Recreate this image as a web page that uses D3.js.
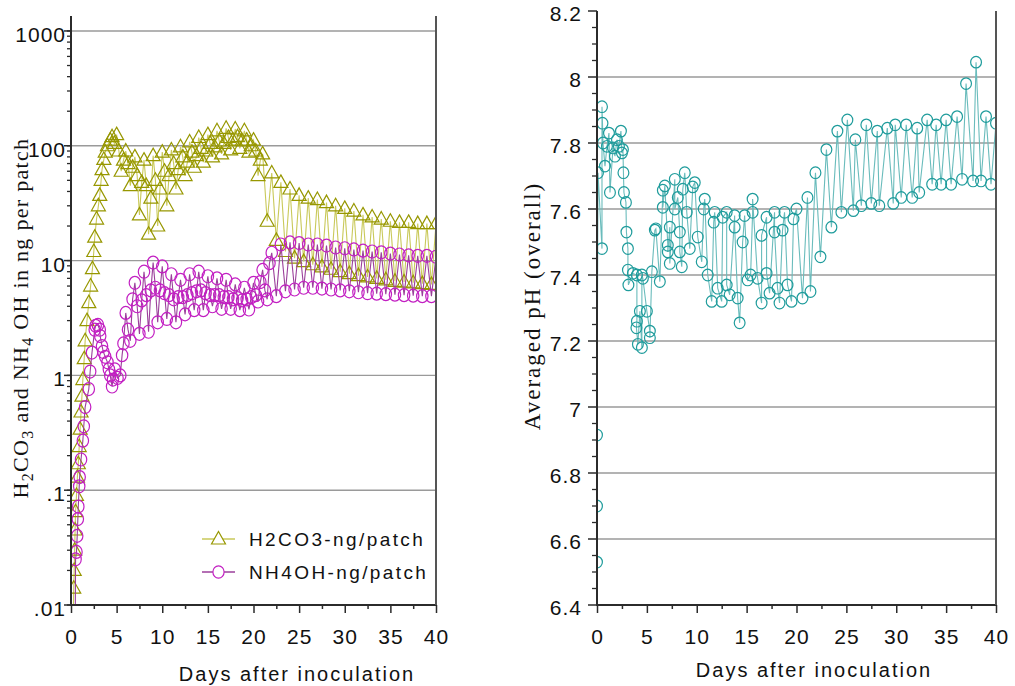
<!DOCTYPE html>
<html>
<head>
<meta charset="utf-8">
<script src="https://cdn.jsdelivr.net/npm/d3@7"></script>
<style>
  body { margin: 0; background: #fff; }
  svg { display: block; font-family: "Liberation Sans", Arial, sans-serif; }
</style>
</head>
<body>
<div id="chart"></div>
<script>
// ---- data: [day, value] ----
const h2co3Points = [
  [0.2,0.005],[0.3,0.014],[0.35,0.02],[0.4,0.03],[0.45,0.045],[0.5,0.065],[0.6,0.09],[0.7,0.13],[0.8,0.17],[0.9,0.24],
  [1.0,0.34],[1.1,0.48],[1.2,0.66],[1.3,0.92],[1.45,1.4],[1.55,2.0],[1.75,3.0],[1.95,4.3],[2.15,6.0],[2.35,8.5],
  [2.5,12],[2.6,16],[2.8,23],[3.0,30],[3.15,37],[3.3,50],[3.4,62],[3.6,76],[3.75,88],[4.0,100],[4.3,112],[4.5,120],[4.75,105],
  [5.0,125],[5.25,90],[5.5,60],[5.75,75],[6.0,90],[6.25,70],[6.5,45],[6.75,65],
  [7.0,80],[7.25,55],[7.5,25],[7.75,48],[8.0,75],[8.25,45],[8.5,17],[8.75,35],
  [9.0,82],[9.25,50],[9.5,20],[9.75,42],[10.0,88],[10.25,60],[10.5,30],[10.75,55],
  [11.0,92],[11.25,70],[11.5,42],[11.75,62],[12.0,98],[12.25,80],[12.5,55],[12.75,72],
  [13.0,108],[13.25,88],[13.5,65],[13.75,82],[14.0,118],[14.25,95],[14.5,72],[14.75,90],
  [15.0,125],[15.25,105],[15.5,80],[15.75,98],[16.0,135],[16.25,110],[16.5,85],[16.75,105],
  [17.0,142],[17.25,118],[17.5,92],[17.75,112],[18.0,140],[18.25,120],[18.5,95],[18.75,110],
  [19.0,135],[19.25,112],[19.5,88],[19.75,100],[20.0,112],[20.25,90],[20.5,55],[20.75,75],
  [21.0,85],[21.5,22],[22.0,58],[22.5,15],[23.0,48],[23.5,12],[24.0,42],[24.5,10.5],[25.0,37],[25.5,9.8],
  [26.0,35],[26.5,9.2],[27.0,34],[27.5,8.8],[28.0,32],[28.5,8.4],[29.0,30],[29.5,8.0],[30.0,28.5],[30.5,7.7],
  [31.0,27],[31.5,7.4],[32.0,25],[32.5,7.2],[33.0,24],[33.5,7.0],[34.0,23],[34.5,6.8],[35.0,22],[35.5,6.6],
  [36.0,21.5],[36.5,6.5],[37.0,21.5],[37.5,6.4],[38.0,21],[38.5,6.3],[39.0,21],[39.5,6.2],[40.0,21]
];

const nh4ohPoints = [
  [0.45,0.004],[0.5,0.025],[0.6,0.029],[0.68,0.04],[0.75,0.056],[0.8,0.072],[0.9,0.108],[0.95,0.13],[1.1,0.185],[1.3,0.27],
  [1.4,0.36],[1.55,0.53],[1.95,0.76],[2.1,1.08],[2.3,1.58],[2.6,2.5],[2.7,2.7],[2.95,2.75],[3.15,2.5],[3.2,2.2],
  [3.4,1.8],[3.55,1.6],[3.75,1.45],[4.0,1.3],[4.15,1.13],[4.3,1.0],[4.5,0.8],[4.6,0.92],[4.8,1.13],[5.1,0.95],[5.4,1.0],[5.6,1.5],
  [5.75,1.9],[6.0,3.5],[6.25,2.5],[6.5,2.0],[6.75,4.6],[7.0,6.4],[7.25,4.0],[7.5,2.3],
  [7.75,4.5],[8.0,8.0],[8.25,5.0],[8.5,2.4],[8.75,5.5],[9.0,9.6],[9.25,5.8],[9.5,2.9],
  [9.75,5.5],[10.0,8.9],[10.25,5.2],[10.5,3.1],[10.75,5.0],[11.0,7.6],[11.25,4.6],[11.5,2.9],
  [11.75,4.8],[12.0,6.8],[12.25,4.8],[12.5,3.4],[12.75,5.0],[13.0,7.6],[13.25,5.2],[13.5,3.7],
  [13.75,5.4],[14.0,8.0],[14.25,5.5],[14.5,3.7],[14.75,5.2],[15.0,7.3],[15.25,5.0],[15.5,4.0],
  [15.75,5.0],[16.0,7.0],[16.25,5.0],[16.5,3.8],[16.75,4.8],[17.0,6.8],[17.25,4.8],[17.5,3.8],
  [17.75,4.6],[18.0,6.2],[18.25,4.7],[18.5,3.7],[18.75,4.5],[19.0,5.8],[19.25,4.6],[19.5,3.75],
  [19.75,4.8],[20.0,6.4],[20.25,5.0],[20.5,4.4],[20.75,6.5],[21.0,8.3],[21.25,5.5],[21.5,4.6],
  [21.75,9.5],[22.0,11.7],[22.5,4.9],[23.0,13.8],[23.5,5.4],[24.0,14.4],[24.5,5.6],[25.0,14.2],[25.5,5.8],
  [26.0,13.8],[26.5,5.8],[27.0,13.8],[27.5,5.7],[28.0,13.5],[28.5,5.6],[29.0,13.0],[29.5,5.5],[30.0,12.8],[30.5,5.4],
  [31.0,12.5],[31.5,5.3],[32.0,12.2],[32.5,5.2],[33.0,12.0],[33.5,5.15],[34.0,11.8],[34.5,5.1],[35.0,11.5],[35.5,5.05],
  [36.0,11.3],[36.5,5.0],[37.0,11.1],[37.5,4.95],[38.0,11.0],[38.5,4.9],[39.0,11.0],[39.5,4.9],[40.0,10.8]
];

const phPoints = [
  [0,6.53],[0,6.70],[0,6.915],[0.1,7.71],[0.5,7.48],[0.5,7.91],[0.55,7.86],[0.6,7.80],[0.8,7.73],[1.0,7.79],
  [1.2,7.83],[1.3,7.65],[1.6,7.785],[1.8,7.76],[2.0,7.81],[2.2,7.79],[2.4,7.836],[2.5,7.77],[2.6,7.78],[2.65,7.71],
  [2.7,7.65],[2.9,7.62],[2.95,7.53],[3.1,7.48],[3.1,7.415],[3.15,7.37],[3.6,7.405],[4.0,7.40],[4.0,7.26],[3.95,7.24],
  [4.1,7.19],[4.3,7.29],[4.5,7.18],[4.5,7.40],[4.6,7.39],[5.0,7.29],[5.3,7.23],[5.3,7.21],[5.5,7.41],[5.8,7.536],
  [5.9,7.54],[6.3,7.38],[6.6,7.657],[6.6,7.605],[6.8,7.67],[7.1,7.49],[7.1,7.47],[7.3,7.545],[7.3,7.435],[7.8,7.69],
  [7.8,7.60],[8.1,7.635],[8.3,7.53],[8.3,7.47],[8.5,7.425],[8.6,7.66],[8.8,7.71],[9.0,7.59],[9.3,7.48],[9.6,7.667],
  [9.8,7.68],[10.1,7.515],[10.5,7.44],[10.7,7.60],[10.8,7.63],[11.1,7.40],[11.5,7.32],[11.7,7.56],[11.8,7.59],[12.1,7.36],
  [12.5,7.32],[12.6,7.575],[13.0,7.59],[13.0,7.37],[13.3,7.34],[13.8,7.58],[13.8,7.545],[14.1,7.33],[14.3,7.255],[14.6,7.50],
  [14.8,7.58],[15.1,7.385],[15.4,7.40],[15.6,7.59],[15.6,7.63],[16.1,7.39],[16.5,7.315],[16.5,7.52],[17.0,7.575],[17.0,7.405],
  [17.3,7.345],[17.8,7.59],[17.8,7.53],[18.1,7.36],[18.3,7.315],[18.6,7.536],[18.8,7.59],[19.1,7.37],[19.5,7.32],[19.7,7.57],
  [20.0,7.60],[20.6,7.33],[21.1,7.635],[21.4,7.35],[21.9,7.71],[22.4,7.455],[23.0,7.78],[23.5,7.545],[24.1,7.836],[24.5,7.59],
  [25.1,7.87],[25.7,7.595],[25.9,7.81],[26.5,7.61],[27.0,7.855],[27.5,7.617],[28.1,7.836],[28.3,7.61],[29.1,7.845],[29.7,7.617],
  [29.9,7.855],[30.5,7.635],[31.0,7.855],[31.6,7.635],[32.1,7.845],[32.3,7.65],[33.1,7.87],[33.6,7.675],[34.0,7.855],[34.5,7.675],
  [35.0,7.87],[35.5,7.675],[36.1,7.88],[36.6,7.69],[37.0,7.98],[37.7,7.685],[38.0,8.045],[38.5,7.685],[39.0,7.88],[39.5,7.675],
  [40.0,7.86]
];

const dayTicks = [0, 5, 10, 15, 20, 25, 30, 35, 40];
const dayMinorTicks = [2.5, 7.5, 12.5, 17.5, 22.5, 27.5, 32.5, 37.5];
const logTicks = [0.01, 0.1, 1, 10, 100, 1000];
const logTickLabels = ['.01', '.1', '1', '10', '100', '1000'];
const phTicks = [6.4, 6.6, 6.8, 7, 7.2, 7.4, 7.6, 7.8, 8, 8.2];
const phTickLabels = ['6.4', '6.6', '6.8', '7', '7.2', '7.4', '7.6', '7.8', '8', '8.2'];
const phMinorTicks = [6.45,6.5,6.55,6.65,6.7,6.75,6.85,6.9,6.95,7.05,7.1,7.15,7.25,7.3,7.35,7.45,7.5,7.55,7.65,7.7,7.75,7.85,7.9,7.95,8.05,8.1,8.15];
const legendNames = ['H2CO3-ng/patch', 'NH4OH-ng/patch'];

// ---- colours ----
const olive = '#979700', oliveLine = '#c9c95a';
const magenta = '#c21fc2', magentaLine = '#9b3f9b';
const teal = '#1f9c9c', tealLine = '#6abcbc';
const axisColor = '#2b2b2b', gridColor = '#9a9a9a';

const svg = d3.select('#chart').append('svg')
  .attr('width', 1015)
  .attr('height', 686);

// scales
const xL = d3.scaleLinear().domain([0, 40]).range([71, 436]);
const yL = d3.scaleLog().domain([0.01, 1350]).range([605, 16]);
const xR = d3.scaleLinear().domain([0, 40]).range([597, 996]);
const yR = d3.scaleLinear().domain([6.4, 8.2]).range([605, 11]);

const defs = svg.append('defs');
const addClip = (id, x, y) => defs.append('clipPath').attr('id', id)
  .append('rect')
    .attr('x', x.range()[0]).attr('y', y.range()[1])
    .attr('width', x.range()[1] - x.range()[0])
    .attr('height', y.range()[0] - y.range()[1]);
addClip('clipL', xL, yL);
addClip('clipR', xR, yR);

const triPath = 'M0,-7.5L7,5L-7,5Z';

// gridlines
svg.append('g').selectAll('line')
  .data(logTicks.filter(v => v > 0.01))
  .join('line')
    .attr('x1', xL(0)).attr('x2', xL(40))
    .attr('y1', d => yL(d)).attr('y2', d => yL(d))
    .attr('stroke', gridColor).attr('stroke-width', 1.4);

svg.append('g').selectAll('line')
  .data(phTicks.filter(v => v > 6.45 && v < 8.1))
  .join('line')
    .attr('x1', xR(0)).attr('x2', xR(40))
    .attr('y1', d => yR(d)).attr('y2', d => yR(d))
    .attr('stroke', gridColor).attr('stroke-width', 1.4);

// ---- series ----
const drawSeries = (points, x, y, clipId, lineColor, markColor, marker) => {
  const g = svg.append('g').attr('clip-path', `url(#${clipId})`);
  g.append('path')
    .datum(points)
    .attr('fill', 'none')
    .attr('stroke', lineColor)
    .attr('stroke-width', 1.1)
    .attr('d', d3.line().x(d => x(d[0])).y(d => y(d[1])));
  if (marker === 'tri') {
    g.selectAll('path.mark')
      .data(points)
      .join('path')
        .attr('class', 'mark')
        .attr('d', triPath)
        .attr('transform', d => `translate(${x(d[0])},${y(d[1])})`)
        .attr('fill', 'none')
        .attr('stroke', markColor)
        .attr('stroke-width', 1.2);
  } else {
    g.selectAll('ellipse')
      .data(points)
      .join('ellipse')
        .attr('cx', d => x(d[0]))
        .attr('cy', d => y(d[1]))
        .attr('rx', marker === 'circleL' ? 5.7 : 5.4)
        .attr('ry', marker === 'circleL' ? 6.5 : 5.8)
        .attr('fill', 'none')
        .attr('stroke', markColor)
        .attr('stroke-width', 1.2);
  }
};

drawSeries(h2co3Points, xL, yL, 'clipL', oliveLine, olive, 'tri');
drawSeries(nh4ohPoints, xL, yL, 'clipL', magentaLine, magenta, 'circleL');
drawSeries(phPoints, xR, yR, 'clipR', tealLine, teal, 'circleR');

// ---- axes ----
const drawXAxis = (x, y0) => {
  svg.append('g')
    .attr('transform', `translate(0,${y0})`)
    .call(d3.axisBottom(x).tickValues(dayMinorTicks).tickSize(4).tickSizeOuter(0).tickFormat(''))
    .attr('color', axisColor)
    .call(g => g.select('.domain').remove())
    .selectAll('line').attr('stroke-width', 1.5);

  svg.append('g')
    .attr('transform', `translate(0,${y0})`)
    .call(d3.axisBottom(x).tickValues(dayTicks).tickSize(8).tickSizeOuter(0).tickPadding(16))
    .attr('color', axisColor)
    .attr('font-size', 21)
    .attr('font-family', '"Liberation Sans", Arial, sans-serif')
    .call(g => g.select('.domain').remove())
    .call(g => g.selectAll('line').attr('stroke-width', 1.5))
    .call(g => g.selectAll('text').attr('fill', '#111').attr('letter-spacing', '1px'));

  svg.append('line')
    .attr('x1', x.range()[0] - 1).attr('x2', x.range()[1] + 1)
    .attr('y1', y0).attr('y2', y0)
    .attr('stroke', axisColor).attr('stroke-width', 2);
};

drawXAxis(xL, 605);
drawXAxis(xR, 605);

// left (log) y axis
const yLeft = svg.append('g');
yLeft.selectAll('line.minor')
  .data(yL.ticks())
  .join('line')
    .attr('x1', xL(0) - 4).attr('x2', xL(0))
    .attr('y1', d => yL(d)).attr('y2', d => yL(d))
    .attr('stroke', axisColor).attr('stroke-width', 1.3);
yLeft.selectAll('line.major')
  .data(logTicks)
  .join('line')
    .attr('x1', xL(0) - 7).attr('x2', xL(0))
    .attr('y1', d => yL(d)).attr('y2', d => yL(d))
    .attr('stroke', axisColor).attr('stroke-width', 1.5);
yLeft.selectAll('text')
  .data(logTicks)
  .join('text')
    .attr('x', xL(0) - 5)
    .attr('y', d => yL(d) + 11)
    .attr('text-anchor', 'end')
    .attr('font-size', 21)
    .attr('letter-spacing', '1px')
    .attr('fill', '#111')
    .text((d, i) => logTickLabels[i]);
yLeft.append('line')
  .attr('x1', xL(0)).attr('x2', xL(0))
  .attr('y1', yL.range()[1]).attr('y2', yL.range()[0] + 1)
  .attr('stroke', axisColor).attr('stroke-width', 2);
// frame on the right side of the left panel
svg.append('line')
  .attr('x1', xL(40)).attr('x2', xL(40))
  .attr('y1', yL.range()[1]).attr('y2', yL.range()[0])
  .attr('stroke', '#555').attr('stroke-width', 2);

// right (pH) y axis
const yRight = svg.append('g');
yRight.selectAll('line.minor')
  .data(phMinorTicks)
  .join('line')
    .attr('x1', xR(0) - 5).attr('x2', xR(0))
    .attr('y1', d => yR(d)).attr('y2', d => yR(d))
    .attr('stroke', axisColor).attr('stroke-width', 1.3);
yRight.selectAll('line.major')
  .data(phTicks)
  .join('line')
    .attr('x1', xR(0) - 9).attr('x2', xR(0))
    .attr('y1', d => yR(d)).attr('y2', d => yR(d))
    .attr('stroke', axisColor).attr('stroke-width', 1.5);
yRight.selectAll('text')
  .data(phTicks)
  .join('text')
    .attr('x', xR(0) - 15)
    .attr('y', d => yR(d) + 10)
    .attr('text-anchor', 'end')
    .attr('font-size', 21)
    .attr('letter-spacing', '1px')
    .attr('fill', '#111')
    .text((d, i) => phTickLabels[i]);
yRight.append('line')
  .attr('x1', xR(0)).attr('x2', xR(0))
  .attr('y1', yR.range()[1]).attr('y2', yR.range()[0] + 1)
  .attr('stroke', axisColor).attr('stroke-width', 2);
svg.append('line')
  .attr('x1', xR(40)).attr('x2', xR(40))
  .attr('y1', yR.range()[1]).attr('y2', yR.range()[0])
  .attr('stroke', '#555').attr('stroke-width', 2);

// ---- axis titles ----
svg.append('text')
  .attr('x', 297).attr('y', 681)
  .attr('text-anchor', 'middle')
  .attr('font-size', 20)
  .attr('letter-spacing', '2px')
  .attr('fill', '#111')
  .text('Days after inoculation');

svg.append('text')
  .attr('x', 814).attr('y', 677)
  .attr('text-anchor', 'middle')
  .attr('font-size', 20)
  .attr('letter-spacing', '2px')
  .attr('fill', '#111')
  .text('Days after inoculation');

const leftTitle = svg.append('text')
  .attr('transform', 'translate(28,318) rotate(-90)')
  .attr('text-anchor', 'middle')
  .attr('font-family', '"Liberation Serif", "Times New Roman", serif')
  .attr('font-size', 22)
  .attr('letter-spacing', '1.3px')
  .attr('fill', '#111');
[['H', 0], ['2', 1], ['CO', 0], ['3', 1], [' and NH', 0], ['4', 1], [' OH in ng per patch', 0]]
  .forEach(([t, sub], i, arr) => {
    const prevSub = i > 0 && arr[i - 1][1];
    leftTitle.append('tspan')
      .attr('font-size', sub ? 16 : 22)
      .attr('dy', sub ? 5 : (prevSub ? -5 : 0))
      .text(t);
  });

svg.append('text')
  .attr('transform', 'translate(540,306) rotate(-90)')
  .attr('text-anchor', 'middle')
  .attr('font-family', '"Liberation Serif", "Times New Roman", serif')
  .attr('font-size', 23)
  .attr('letter-spacing', '2px')
  .attr('fill', '#111')
  .text('Averaged pH (overall)');

// ---- legend ----
const legend = svg.append('g');
const legendRows = [
  { name: legendNames[0], y: 539, line: oliveLine, mark: olive, type: 'tri' },
  { name: legendNames[1], y: 572, line: magentaLine, mark: magenta, type: 'circle' }
];
legendRows.forEach(r => {
  legend.append('line')
    .attr('x1', 202).attr('x2', 235)
    .attr('y1', r.y).attr('y2', r.y)
    .attr('stroke', r.line).attr('stroke-width', 1.3);
  if (r.type === 'tri') {
    legend.append('path').attr('d', triPath)
      .attr('transform', `translate(218.5,${r.y})`)
      .attr('fill', '#fff').attr('stroke', r.mark).attr('stroke-width', 1.2);
  } else {
    legend.append('ellipse')
      .attr('cx', 218.5).attr('cy', r.y).attr('rx', 5.6).attr('ry', 6.2)
      .attr('fill', '#fff').attr('stroke', r.mark).attr('stroke-width', 1.2);
  }
  legend.append('text')
    .attr('x', 249).attr('y', r.y + 7)
    .attr('font-size', 19)
    .attr('letter-spacing', '2.4px')
    .attr('fill', '#111')
    .text(r.name);
});
</script>
</body>
</html>
